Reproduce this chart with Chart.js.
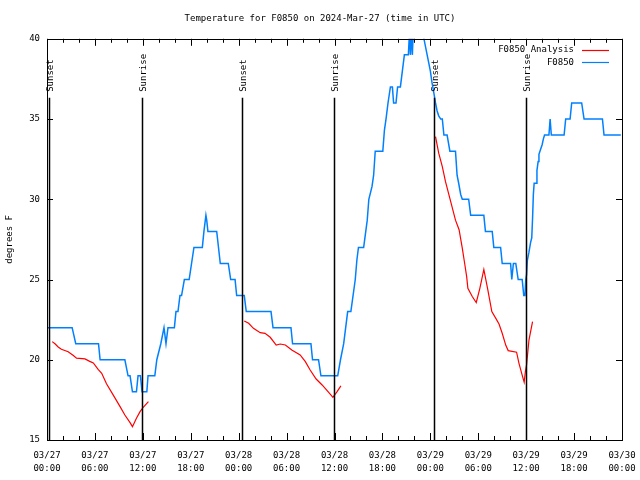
<!DOCTYPE html>
<html>
<head>
<meta charset="utf-8">
<script src="https://cdn.jsdelivr.net/npm/chart.js@4/dist/chart.umd.min.js"></script>
<style>
  html, body { margin: 0; padding: 0; background: #fff; }
</style>
</head>
<body>
<canvas id="temp-chart" width="640" height="480"></canvas>
<script>
// Horas desde 03/27 00:00 UTC e temperatura (graus F)
var obsHours = [0.1, 3.15, 3.6, 6.45, 6.65, 9.75, 10.15, 10.4, 10.7, 11.2, 11.4, 11.7, 11.9, 12.5, 12.65, 13.5, 13.75, 14.25, 14.65, 14.9, 15.15, 15.95, 16.15, 16.4, 16.65, 16.85, 17.2, 17.8, 18.4, 19.45, 19.65, 19.9, 20.0, 20.15, 21.25, 21.7, 22.7, 23.0, 23.55, 23.75, 24.7, 24.95, 28.05, 28.3, 30.55, 30.75, 33.05, 33.25, 34.0, 34.3, 36.4, 36.75, 37.15, 37.65, 38.05, 38.6, 38.8, 39.0, 39.65, 40.1, 40.3, 40.7, 40.9, 41.1, 42.05, 42.25, 42.45, 42.7, 43.0, 43.25, 43.4, 43.7, 43.9, 44.25, 44.5, 44.75, 45.25, 45.4, 45.5, 45.65, 45.75, 45.9, 47.15, 47.2, 47.6, 47.8, 48.0, 48.2, 48.45, 48.65, 48.85, 49.05, 49.3, 49.5, 49.7, 50.1, 50.45, 51.15, 51.35, 51.55, 51.8, 52.0, 52.8, 53.05, 54.7, 54.9, 55.75, 55.95, 56.8, 57.0, 58.05, 58.2, 58.4, 58.7, 59.0, 59.5, 59.7, 59.85, 59.95, 60.05, 60.15, 60.35, 60.55, 60.7, 60.8, 60.9, 61.0, 61.3, 61.35, 61.5, 61.6, 61.8, 62.0, 62.15, 62.3, 62.85, 63.0, 63.15, 64.75, 64.95, 65.5, 65.7, 66.95, 67.25, 69.55, 69.75, 71.85]
var obsTemps = [22, 22, 21, 21, 20, 20, 19, 19, 18, 18, 19, 19, 18, 18, 19, 19, 20, 21, 22, 21, 22, 22, 23, 23, 24, 24, 25, 25, 27, 27, 28, 29, 28.7, 28, 28, 26, 26, 25, 25, 24, 24, 23, 23, 22, 22, 21, 21, 20, 20, 19, 19, 20, 21, 23, 23, 25, 26.2, 27, 27, 28.7, 30, 30.8, 31.5, 33, 33, 34.3, 35, 36, 37, 37, 36, 36, 37, 37, 38, 39, 39, 40.5, 39, 40.5, 39, 41, 41, 40, 39, 38.5, 38, 37.3, 36.6, 36, 35.5, 35.2, 35, 35, 34, 34, 33, 33, 31.5, 31, 30.3, 30, 30, 29, 29, 28, 28, 27, 27, 26, 26, 25, 26, 26, 25, 25, 24, 24, 25, 25.3, 26.2, 26.7, 27.3, 27.6, 28.8, 30.3, 31, 31, 31.8, 32.35, 32.8, 33.1, 33.4, 33.75, 34, 34, 35, 34, 34, 35, 35, 36, 36, 35, 35, 34, 34]

// Análise (null = sem dados)
var anaHours = [0.65, 1.0, 1.4, 1.8, 2.65, 3.3, 3.7, 4.75, 5.35, 5.8, 6.4, 6.85, 7.45, 8.3, 9.15, 9.75, 10.4, 10.7, 11.2, 11.65, 12.05, 12.7, 13.0, 24.7, 25.25, 25.85, 26.7, 27.3, 27.95, 28.7, 29.2, 29.85, 30.65, 31.7, 32.35, 32.95, 33.7, 34.45, 35.3, 35.8, 36.3, 36.8, 40.0, 48.65, 49.05, 49.5, 49.9, 50.55, 51.15, 51.6, 52.0, 52.3, 52.55, 52.7, 53.25, 53.75, 54.2, 54.7, 55.2, 55.7, 56.2, 56.6, 57.0, 57.45, 57.75, 58.8, 59.1, 59.55, 59.75, 59.9, 60.05, 60.35, 60.8]
var anaTemps = [21.13, 21.0, 20.8, 20.65, 20.5, 20.26, 20.1, 20.05, 19.9, 19.8, 19.4, 19.16, 18.5, 17.8, 17.08, 16.56, 16.08, 15.83, 16.35, 16.77, 17.04, 17.39, null, 22.42, 22.27, 21.96, 21.69, 21.65, 21.4, 20.92, 20.98, 20.92, 20.61, 20.3, 19.88, 19.36, 18.8, 18.43, 17.95, 17.66, 18.0, 18.37, null, 33.9, 32.87, 32.04, 31.1, 29.86, 28.7, 28.1, 26.95, 26.0, 25.18, 24.45, 23.94, 23.57, 24.45, 25.63, 24.35, 23.0, 22.58, 22.23, 21.65, 20.9, 20.57, 20.47, 19.78, 18.95, 18.6, 19.26, 19.68, 21.23, 22.38]

// Nascer/pôr do sol
var sunHours = [0.3, 11.95, 24.4, 35.9, 48.4, 60.0]
var sunLabels = ['Sunset', 'Sunrise', 'Sunset', 'Sunrise', 'Sunset', 'Sunrise']

// Rótulos do eixo X (a cada 6 horas)
var tickDates = ['03/27', '03/27', '03/27', '03/27', '03/28', '03/28', '03/28', '03/28', '03/29', '03/29', '03/29', '03/29', '03/30']
var tickTimes = ['00:00', '06:00', '12:00', '18:00', '00:00', '06:00', '12:00', '18:00', '00:00', '06:00', '12:00', '18:00', '00:00']
var yTicks = [15, 20, 25, 30, 35, 40]

var colorObs = "rgb(0,128,255)"
var colorAna = "#ff0000"
var monoFont = "'DejaVu Sans Mono', 'Liberation Mono', monospace"

function toPoints(xs, ys) {
  return xs.map((x, i) => ({ x: x, y: ys[i] }))
}

// Moldura, marcas internas, linhas do sol e legenda
var framePlugin = {
  id: 'frame',
  afterDatasetsDraw(chart) {
    var ctx = chart.ctx
    var a = chart.chartArea
    var xs = chart.scales.x
    var ys = chart.scales.y
    ctx.save()
    ctx.strokeStyle = '#000'
    ctx.lineWidth = 1

    // marcas do eixo X (menores a cada 2h, maiores a cada 6h)
    ctx.beginPath()
    for (var h = 0; h <= 72; h += 2) {
      var px = Math.round(xs.getPixelForValue(h)) + 0.5
      var len = (h % 6 == 0) ? 7 : 4
      ctx.moveTo(px, a.bottom); ctx.lineTo(px, a.bottom - len)
      ctx.moveTo(px, a.top); ctx.lineTo(px, a.top + len)
    }
    yTicks.forEach((v) => {
      var py = Math.round(ys.getPixelForValue(v)) + 0.5
      ctx.moveTo(a.left, py); ctx.lineTo(a.left + 6, py)
      ctx.moveTo(a.right, py); ctx.lineTo(a.right - 6, py)
    })
    ctx.stroke()

    ctx.strokeRect(Math.round(a.left) + 0.5, Math.round(a.top) + 0.5,
      Math.round(a.right - a.left), Math.round(a.bottom - a.top))

    // linhas do nascer/pôr do sol
    ctx.font = '9px ' + monoFont
    ctx.fillStyle = '#000'
    ctx.lineWidth = 1.5
    sunHours.forEach((h, i) => {
      var px = Math.round(xs.getPixelForValue(h)) + 0.5
      ctx.beginPath()
      ctx.moveTo(px, a.top + 59)
      ctx.lineTo(px, a.bottom)
      ctx.stroke()
      ctx.save()
      ctx.translate(px + 1, a.top + 53)
      ctx.rotate(-Math.PI / 2)
      ctx.textAlign = 'left'
      ctx.textBaseline = 'middle'
      ctx.fillText(sunLabels[i], 0, 0)
      ctx.restore()
    })

    // legenda
    var items = [['F0850 Analysis', colorAna], ['F0850', colorObs]]
    ctx.textAlign = 'right'
    ctx.textBaseline = 'middle'
    items.forEach((it, i) => {
      var py = a.top + 11 + i * 12.5
      ctx.fillStyle = '#000'
      ctx.fillText(it[0], a.right - 48, py)
      ctx.strokeStyle = it[1]
      ctx.lineWidth = 1.2
      ctx.beginPath()
      ctx.moveTo(a.right - 40, Math.round(py) + 0.5)
      ctx.lineTo(a.right - 13, Math.round(py) + 0.5)
      ctx.stroke()
    })
    ctx.restore()
  }
}

var tempChart = new Chart(document.getElementById('temp-chart'), {
  type: 'line',
  data: {
    datasets: [{
      label: 'F0850 Analysis',
      data: toPoints(anaHours, anaTemps),
      borderColor: colorAna,
      borderWidth: 1.2,
      pointRadius: 0,
      spanGaps: false,
      tension: 0
    }, {
      label: 'F0850',
      data: toPoints(obsHours, obsTemps),
      borderColor: colorObs,
      borderWidth: 1.5,
      pointRadius: 0,
      tension: 0
    }]
  },
  options: {
    responsive: false,
    animation: false,
    layout: { padding: 0 },
    plugins: {
      legend: { display: false },
      tooltip: { enabled: false },
      title: {
        display: true,
        text: 'Temperature for F0850 on 2024-Mar-27 (time in UTC)',
        color: '#000',
        font: { family: monoFont, size: 9, weight: 'normal', lineHeight: 1.2 },
        padding: { top: 13, bottom: 15 }
      }
    },
    scales: {
      x: {
        type: 'linear',
        min: 0,
        max: 72,
        grid: { display: false, drawTicks: false },
        border: { display: false },
        afterFit: (s) => {
          s.height = 40
          s.paddingLeft = 0
          s.paddingRight = 0
        },
        afterBuildTicks: (s) => { s.ticks = tickDates.map((d, i) => ({ value: i * 6 })) },
        ticks: {
          autoSkip: false,
          maxRotation: 0,
          padding: 9,
          color: '#000',
          font: { family: monoFont, size: 9, lineHeight: 1.45 },
          callback: (v) => [tickDates[v / 6], tickTimes[v / 6]]
        }
      },
      y: {
        min: 15,
        max: 40,
        grid: { display: false, drawTicks: false },
        border: { display: false },
        afterFit: (s) => { s.width = 47 },
        ticks: {
          stepSize: 5,
          padding: 7,
          color: '#000',
          font: { family: monoFont, size: 9 }
        },
        title: {
          display: true,
          text: 'degrees F',
          color: '#000',
          font: { family: monoFont, size: 9 },
          padding: { top: 4, bottom: 0 }
        }
      },
      // margem direita vazia
      yRight: {
        position: 'right',
        min: 15,
        max: 40,
        grid: { display: false, drawTicks: false },
        border: { display: false },
        ticks: { display: false },
        afterFit: (s) => { s.width = 18 }
      }
    }
  },
  plugins: [framePlugin]
})
</script>
</body>
</html>
